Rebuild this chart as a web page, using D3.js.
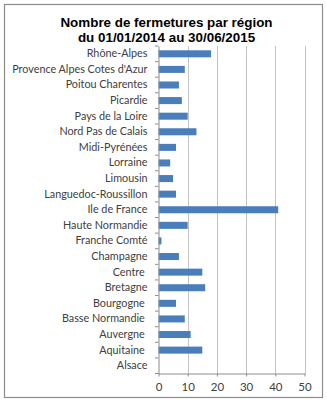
<!DOCTYPE html>
<html>
<head>
<meta charset="utf-8">
<script src="https://cdn.jsdelivr.net/npm/d3@7"></script>
<style>
  html, body { margin: 0; padding: 0; background: #fff; }
  svg { display: block; }
</style>
</head>
<body>
<svg id="chart" width="327" height="403"></svg>
<script>
// Régions, de haut en bas
const regions = [
  "Rhône-Alpes", "Provence Alpes Cotes d'Azur", "Poitou Charentes", "Picardie",
  "Pays de la Loire", "Nord Pas de Calais", "Midi-Pyrénées", "Lorraine",
  "Limousin", "Languedoc-Roussillon", "Ile de France", "Haute Normandie",
  "Franche Comté", "Champagne", "Centre ", "Bretagne", "Bourgogne ",
  "Basse Normandie ", "Auvergne ", "Aquitaine ", "Alsace"
];
// Nombre de fermetures par région
const fermetures = [18, 9, 7, 8, 10, 13, 6, 4, 5, 6, 41, 10, 1, 7, 15, 16, 6, 9, 11, 15, 0];
const xTicks = [0, 10, 20, 30, 40, 50];
const titleLines = ["Nombre de fermetures par région", "du 01/01/2014 au 30/06/2015"];

const svg = d3.select("#chart");
const plot = { left: 158.5, right: 304.5, top: 46, bottom: 373.5 };

// cadre extérieur
svg.append("rect")
  .attr("x", 4.5).attr("y", 4.5)
  .attr("width", 318).attr("height", 393)
  .attr("fill", "#fff").attr("stroke", "#8c8c8c").attr("stroke-width", 1.2);

// titre
const title = svg.append("text")
  .attr("text-anchor", "middle")
  .attr("font-family", "Liberation Sans, Arial, sans-serif")
  .attr("font-weight", "bold")
  .attr("font-size", 13.4)
  .attr("fill", "#000");
title.selectAll("tspan").data(titleLines).join("tspan")
  .attr("x", 166.5)
  .attr("y", (d, i) => 26.5 + i * 15)
  .text(d => d);

const x = d3.scaleLinear().domain([0, 50]).range([plot.left, plot.right]);
const y = d3.scaleBand().domain(regions).range([plot.top, plot.bottom]).paddingInner(0.55).paddingOuter(0.275);

// quadrillage vertical
svg.append("g")
  .selectAll("line").data(xTicks.slice(1)).join("line")
  .attr("x1", d => Math.round(x(d)) + 0.5).attr("x2", d => Math.round(x(d)) + 0.5)
  .attr("y1", plot.top).attr("y2", plot.bottom)
  .attr("stroke", "#c4c4c4").attr("stroke-width", 1);

// barres
svg.append("g")
  .selectAll("rect").data(regions).join("rect")
  .attr("x", x(0))
  .attr("y", d => y(d))
  .attr("width", (d, i) => x(fermetures[i]) - x(0))
  .attr("height", y.bandwidth())
  .attr("fill", "#4a7ebb");

// axe horizontal
const xAxis = d3.axisBottom(x).tickValues(xTicks).tickSize(3).tickPadding(6).tickSizeOuter(0);
const gx = svg.append("g")
  .attr("transform", `translate(0,${plot.bottom})`)
  .call(xAxis);
gx.select(".domain").attr("stroke", "#8c8c8c");
gx.selectAll(".tick line").attr("stroke", "#8c8c8c");
gx.selectAll(".tick text")
  .attr("font-family", "Lato, sans-serif")
  .attr("font-size", 11.5)
  .attr("fill", "#404040");

// axe vertical (catégories)
const yAxis = d3.axisLeft(y).tickSize(0).tickPadding(11);
const gy = svg.append("g")
  .attr("transform", `translate(${plot.left},0)`)
  .call(yAxis);
gy.select(".domain").attr("stroke", "#8c8c8c");
gy.selectAll(".tick text")
  .attr("font-family", "Lato, sans-serif")
  .attr("font-size", 10.8)
  .attr("fill", "#404040")
  .style("white-space", "pre");

// graduations entre les catégories
const bounds = d3.range(regions.length + 1).map(i => plot.top + i * (plot.bottom - plot.top) / regions.length);
svg.append("g")
  .selectAll("line").data(bounds).join("line")
  .attr("x1", plot.left - 3.5).attr("x2", plot.left)
  .attr("y1", d => d).attr("y2", d => d)
  .attr("stroke", "#8c8c8c");
</script>
</body>
</html>
